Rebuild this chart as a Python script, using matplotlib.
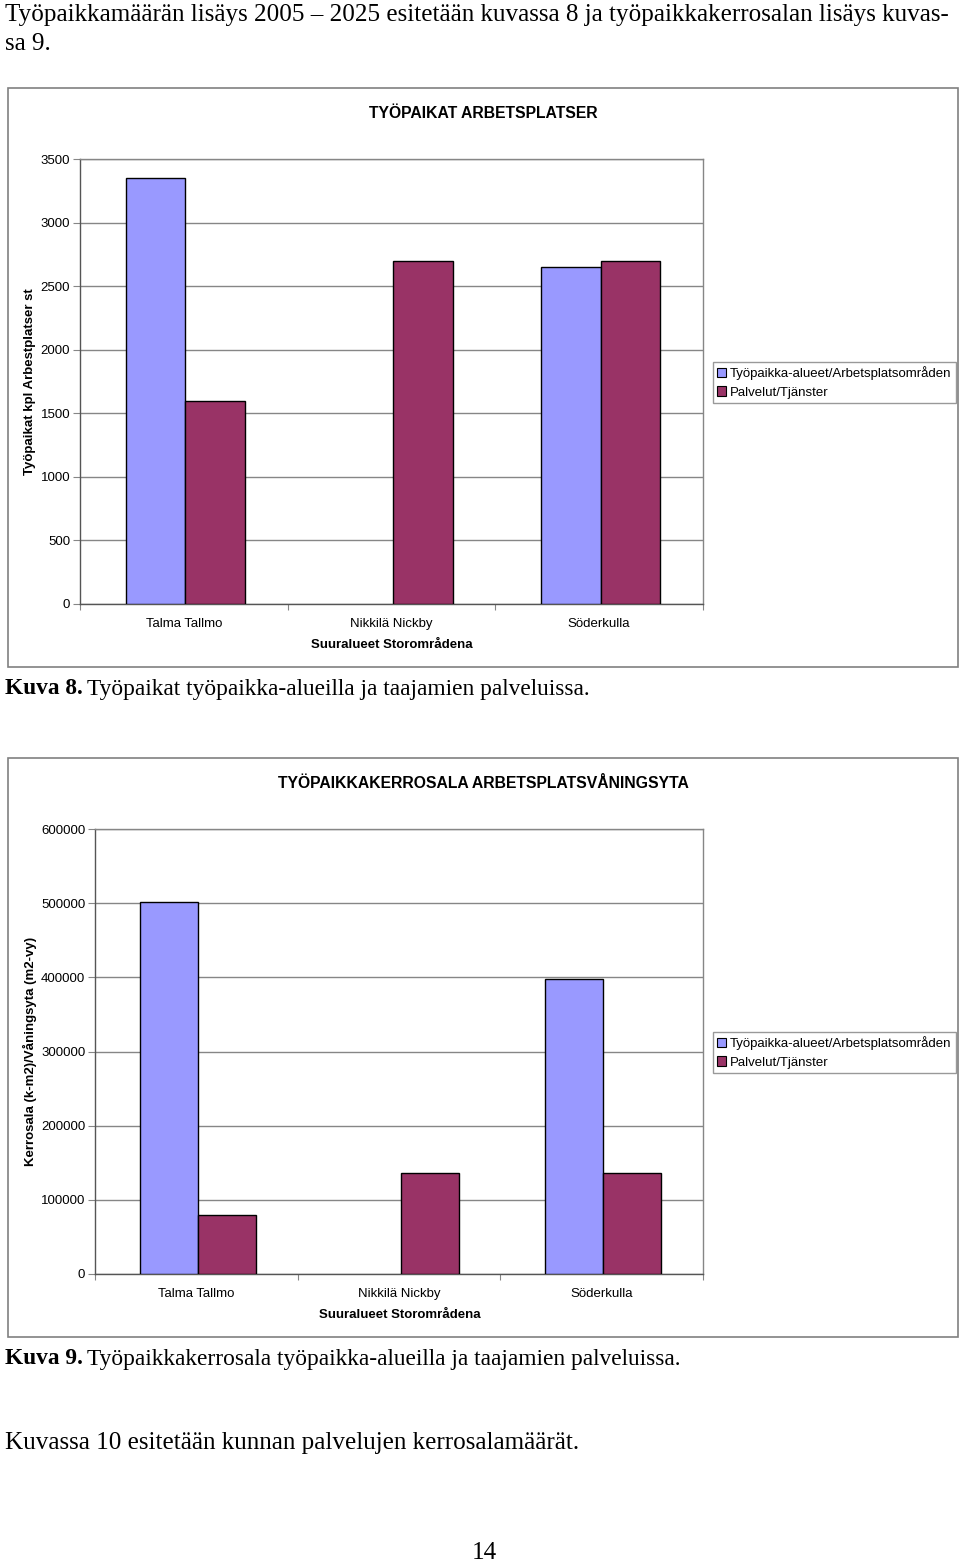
import matplotlib
matplotlib.use("Agg")
from matplotlib import pyplot as plt
from matplotlib.patches import Rectangle, Patch

W, H = 960, 1562

categories = ['Talma Tallmo', 'Nikkilä Nickby', 'Söderkulla']
series_names = ['Työpaikka-alueet/Arbetsplatsområden', 'Palvelut/Tjänster']

jobs_areas = [3350, 0, 2650]
jobs_services = [1600, 2700, 2700]

floor_areas = [502000, 0, 398000]
floor_services = [80000, 135600, 135600]

blue = '#9999FF'
red = '#993366'
grid_c = '#868686'

sans = 'Liberation Sans'
serif = 'Liberation Serif'
body_fs = 18.1
cap_fs = 16.8


def fx(px):
    return px / W


def fy(py):
    return 1 - py / H


def chart(fig, box, ax_px, title, ylabel, yticks, ymax, vals_a, vals_b, legend_y):
    # outer frame
    x0, y0, x1, y1 = box
    fig.patches.append(Rectangle((fx(x0), fy(y1)), fx(x1 - x0), (y1 - y0) / H,
                                 transform=fig.transFigure, fill=False,
                                 edgecolor='#808080', lw=1.2))
    l, t, r, b = ax_px
    ax = fig.add_axes([fx(l), fy(b), fx(r - l), (b - t) / H])
    w = 0.287
    xs = range(len(categories))
    ba = ax.bar([x - w / 2 + 0.008 for x in xs], vals_a, w, color=blue, edgecolor='black', lw=1, zorder=3)
    bb = ax.bar([x + w / 2 + 0.008 for x in xs], vals_b, w, color=red, edgecolor='black', lw=1, zorder=3)
    for p in list(ba) + list(bb):
        if p.get_height() == 0:
            p.set_visible(False)
    ax.set_xlim(-0.5, 2.5)
    ax.set_ylim(0, ymax)
    ax.set_yticks(yticks)
    ax.yaxis.grid(True, color=grid_c, lw=1)
    ax.set_axisbelow(True)
    ax.set_xticks([-0.5, 0.5, 1.5, 2.5])
    ax.set_xticklabels([])
    ax.set_xticks(list(xs), minor=True)
    ax.set_xticklabels(categories, minor=True, fontsize=9.5, family=sans)
    ax.tick_params(axis='x', which='minor', length=0, pad=10)
    ax.tick_params(axis='x', which='major', length=4, color=grid_c, direction='out')
    ax.tick_params(axis='y', length=5, color=grid_c, labelsize=9.5, pad=2)
    for lab in ax.get_yticklabels():
        lab.set_family(sans)
    for s in ax.spines.values():
        s.set_color(grid_c)
        s.set_linewidth(1)
    ax.spines['left'].set_color('#555555')
    ax.spines['bottom'].set_color('#555555')
    fig.text(fx((x0 + x1) / 2), fy(t - 46), title, ha='center', va='center',
             fontsize=11.3, fontweight='bold', family=sans)
    fig.text(fx(30), fy((t + b) / 2), ylabel, rotation=90, ha='center', va='center',
             fontsize=9.5, fontweight='bold', family=sans)
    fig.text(fx(392 + (l - 80) / 2), fy(b + 41), 'Suuralueet Storområdena', ha='center',
             va='center', fontsize=9.5, fontweight='bold', family=sans)
    handles = [Patch(facecolor=blue, edgecolor='black', lw=0.8, label=series_names[0]),
               Patch(facecolor=red, edgecolor='black', lw=0.8, label=series_names[1])]
    leg = fig.legend(handles=handles, loc='upper left', bbox_to_anchor=(fx(713), fy(legend_y)),
                     prop={'family': sans, 'size': 9.5}, frameon=True, fancybox=False,
                     handlelength=0.7, handleheight=0.7, handletextpad=0.3,
                     borderpad=0.3, labelspacing=0.5, borderaxespad=0)
    leg.get_frame().set_edgecolor('#808080')
    leg.get_frame().set_linewidth(1)
    return ax


fig = plt.figure(figsize=(W / 100, H / 100), dpi=100)

fig.text(fx(5), fy(15), 'Työpaikkamäärän lisäys 2005 – 2025 esitetään kuvassa 8 ja työpaikkakerrosalan lisäys kuvas-',
         ha='left', va='center', fontsize=body_fs, family=serif)
fig.text(fx(5), fy(44), 'sa 9.', ha='left', va='center', fontsize=body_fs, family=serif)

chart(fig, (8, 88, 958, 667), (80, 159, 703, 604), 'TYÖPAIKAT ARBETSPLATSER',
      'Työpaikat kpl Arbestplatser st', list(range(0, 3501, 500)), 3500,
      jobs_areas, jobs_services, 362)

fig.text(fx(5), fy(689), 'Kuva 8.', ha='left', va='center', fontsize=cap_fs,
         family=serif, fontweight='bold')
fig.text(fx(87), fy(689), 'Työpaikat työpaikka-alueilla ja taajamien palveluissa.',
         ha='left', va='center', fontsize=cap_fs, family=serif)

chart(fig, (8, 758, 958, 1337), (95, 829, 703, 1274), 'TYÖPAIKKAKERROSALA ARBETSPLATSVÅNINGSYTA',
      'Kerrosala (k-m2)/Våningsyta (m2-vy)', list(range(0, 600001, 100000)), 600000,
      floor_areas, floor_services, 1032)

fig.text(fx(5), fy(1359), 'Kuva 9.', ha='left', va='center', fontsize=cap_fs,
         family=serif, fontweight='bold')
fig.text(fx(87), fy(1359), 'Työpaikkakerrosala työpaikka-alueilla ja taajamien palveluissa.',
         ha='left', va='center', fontsize=cap_fs, family=serif)

fig.text(fx(5), fy(1443), 'Kuvassa 10 esitetään kunnan palvelujen kerrosalamäärät.',
         ha='left', va='center', fontsize=body_fs, family=serif)
fig.text(fx(484), fy(1553), '14', ha='center', va='center', fontsize=body_fs, family=serif)

fig.savefig('out.png', dpi=100)
